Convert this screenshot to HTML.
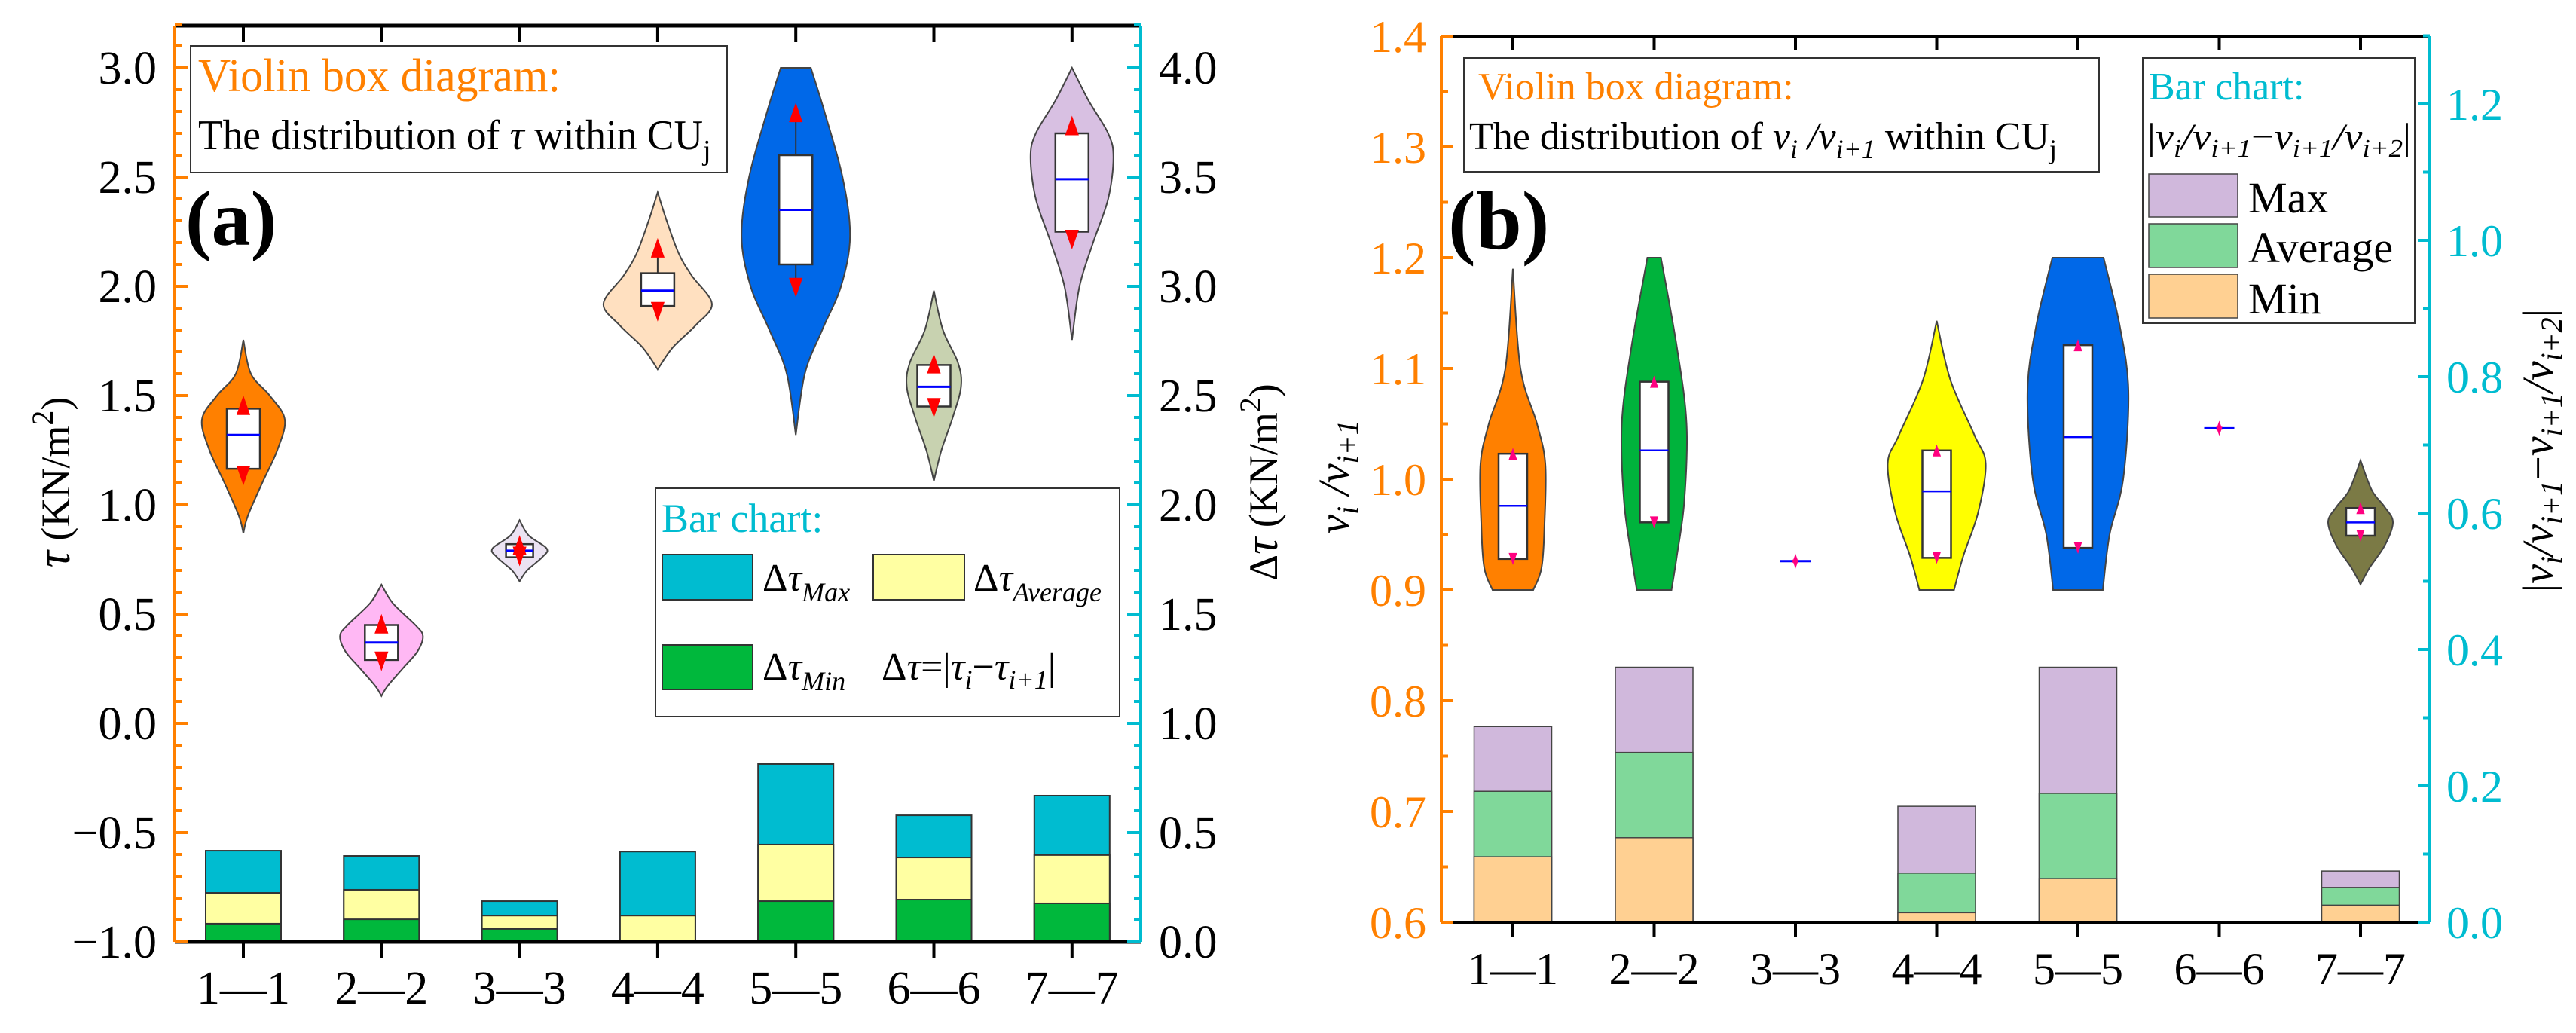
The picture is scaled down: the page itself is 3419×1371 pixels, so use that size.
<!DOCTYPE html>
<html><head><meta charset="utf-8"><style>
html,body{margin:0;padding:0;background:#fff}
svg{display:block}
text{font-family:"Liberation Serif",serif}
</style></head><body>
<svg id="chart" width="3419" height="1371" viewBox="0 0 3419 1371" xmlns="http://www.w3.org/2000/svg">
<g id="pa"></g>
<g id="pb"></g>
</svg>
<script>
// ---------- Panel (a) data ----------
const catsA = ["1—1","2—2","3—3","4—4","5—5","6—6","7—7"];
const barMaxA = [0.417,0.393,0.186,0.413,0.814,0.579,0.669];
const barAvgA = [0.224,0.238,0.120,0.120,0.445,0.386,0.397];
const barMinA = [0.083,0.103,0.059,0.003,0.186,0.193,0.176];
const boxTopA = [1.44,0.45,0.82,2.06,2.60,1.64,2.70];
const boxBotA = [1.165,0.29,0.76,1.91,2.10,1.45,2.25];
const medA = [1.32,0.37,0.79,1.98,2.35,1.54,2.49];
const upArrA = [1.47,0.47,0.83,2.19,2.81,1.66,2.75];
const dnArrA = [1.12,0.27,0.75,1.87,1.98,1.43,2.20];
const violinA = [
 [[1.755,0],[1.6,10],[1.5,35],[1.39,55],[1.25,45],[1.1,25],[0.95,6],[0.87,0]],
 [[0.635,0],[0.55,15],[0.45,45],[0.40,55],[0.33,48],[0.25,28],[0.17,8],[0.125,0]],
 [[0.93,0],[0.86,12],[0.80,36],[0.76,30],[0.70,10],[0.65,0]],
 [[2.43,0],[2.3,12],[2.15,28],[2.05,45],[1.92,72],[1.82,50],[1.72,20],[1.62,0]],
 [[3.0,20],[2.8,38],[2.5,62],[2.23,72],[2.0,60],[1.8,35],[1.6,12],[1.32,0]],
 [[1.98,0],[1.8,12],[1.65,32],[1.54,36],[1.4,25],[1.25,10],[1.11,0]],
 [[3.0,0],[2.85,22],[2.7,48],[2.59,55],[2.4,48],[2.2,28],[2.0,10],[1.755,0]]
];
const colorsA = ["#ff8000","#ffb8f4","#ebe3f2","#ffe0c0","#0068e8","#c8d2b0","#d8c0e2"];
const leftTicksA = [-1.0,-0.5,0.0,0.5,1.0,1.5,2.0,2.5,3.0];
const rightTicksA = [0.0,0.5,1.0,1.5,2.0,2.5,3.0,3.5,4.0];

// ---------- Panel (b) data ----------
const catsB = ["1—1","2—2","3—3","4—4","5—5","6—6","7—7"];
const barMaxB = [0.287,0.374,0,0.170,0.374,0,0.075];
const barAvgB = [0.192,0.249,0,0.072,0.189,0,0.051];
const barMinB = [0.096,0.124,0,0.014,0.064,0,0.025];
const boxTopB = [1.023,1.088,0.926,1.026,1.121,1.046,0.974];
const boxBotB = [0.928,0.961,0.926,0.929,0.938,1.046,0.949];
const medB = [0.976,1.026,0.926,0.989,1.038,1.046,0.961];
const violinB = [
 [[1.19,0],[1.1,10],[1.05,32],[1.014,43],[0.96,42],[0.92,38],[0.9,27]],
 [[1.2,9],[1.12,30],[1.05,43],[0.98,40],[0.93,30],[0.9,23]],
 null,
 [[1.143,0],[1.09,18],[1.04,50],[1.014,65],[0.97,55],[0.93,35],[0.9,23]],
 [[1.2,34],[1.14,55],[1.08,67],[1.0,60],[0.95,42],[0.9,33]],
 null,
 [[1.017,0],[0.99,15],[0.975,32],[0.961,43],[0.94,32],[0.92,12],[0.905,0]]
];
const colorsB = ["#ff8000","#00b33c",null,"#ffff00","#0068e8",null,"#7b7a45"];
const leftTicksB = [0.6,0.7,0.8,0.9,1.0,1.1,1.2,1.3,1.4];
const rightTicksB = [0.0,0.2,0.4,0.6,0.8,1.0,1.2];

const NS="http://www.w3.org/2000/svg";
function mk(parent,tag,attrs,txt){const e=document.createElementNS(NS,tag);for(const k in attrs)e.setAttribute(k,attrs[k]);if(txt!==undefined)e.textContent=txt;parent.appendChild(e);return e;}

function sidePath(pts){
  let d="";
  for(let i=0;i<pts.length-1;i++){
    const p0=pts[Math.max(0,i-1)],p1=pts[i],p2=pts[i+1],p3=pts[Math.min(pts.length-1,i+2)];
    const c1=[p1[0]+(p2[0]-p0[0])/6,p1[1]+(p2[1]-p0[1])/6];
    const c2=[p2[0]-(p3[0]-p1[0])/6,p2[1]-(p3[1]-p1[1])/6];
    d+=` C${c1[0].toFixed(1)},${c1[1].toFixed(1)} ${c2[0].toFixed(1)},${c2[1].toFixed(1)} ${p2[0].toFixed(1)},${p2[1].toFixed(1)}`;
  }
  return d;
}
function violinPath(prof,cx,ys){
  const right=prof.map(p=>[cx+p[1],ys(p[0])]);
  const left=prof.map(p=>[cx-p[1],ys(p[0])]).reverse();
  let d=`M${(cx-prof[0][1]).toFixed(1)},${ys(prof[0][0]).toFixed(1)} L${right[0][0].toFixed(1)},${right[0][1].toFixed(1)}`;
  d+=sidePath(right);
  d+=` L${left[0][0].toFixed(1)},${left[0][1].toFixed(1)}`;
  d+=sidePath(left)+" Z";
  return d;
}
function tri(g,x,y,up,size,color){
  const w=size*0.7,h=size;
  const pts=up?`${x-w/2},${y+h/2} ${x+w/2},${y+h/2} ${x},${y-h/2}`:`${x-w/2},${y-h/2} ${x+w/2},${y-h/2} ${x},${y+h/2}`;
  return mk(g,"polygon",{points:pts,fill:color});
}

// ================= Panel A =================
(function(){
  const g=document.getElementById("pa");
  const L=232,R=1514,T=34,B=1250;
  const yL=v=>B-(v+1.0)*290;
  const yR=v=>B-v*290;
  const xC=i=>323+i*183.3;
  const bw=100;
  const series=[[barMaxA,"#00bcd0","bar-max"],[barAvgA,"#ffffa2","bar-average"],[barMinA,"#00b83c","bar-min"]];
  series.forEach(([arr,col,nm])=>{
    arr.forEach((v,i)=>{
      const r=mk(g,"rect",{x:xC(i)-bw/2,y:yR(v),width:bw,height:B-yR(v),fill:col,stroke:"#333","stroke-width":2});
      
      
    });
  });
  violinA.forEach((prof,i)=>{
    const cx=xC(i);
    const p=mk(g,"path",{d:violinPath(prof,cx,yL),fill:colorsA[i],stroke:"#444","stroke-width":2});
    
    
    const bh=i==2?18:22;
    mk(g,"line",{x1:cx,x2:cx,y1:yL(upArrA[i]),y2:yL(dnArrA[i]),stroke:"#333","stroke-width":2});
    const b=mk(g,"rect",{x:cx-bh,y:yL(boxTopA[i]),width:bh*2,height:yL(boxBotA[i])-yL(boxTopA[i]),fill:"#fff",stroke:"#333","stroke-width":2.5});
    
    
    mk(g,"line",{x1:cx-bh,x2:cx+bh,y1:yL(medA[i]),y2:yL(medA[i]),stroke:"#0000ff","stroke-width":3});
    tri(g,cx,yL(upArrA[i])+4,true,26,"#ff0000");
    tri(g,cx,yL(dnArrA[i])-4,false,26,"#ff0000");
  });
  mk(g,"line",{x1:L,x2:R,y1:T,y2:T,stroke:"#000","stroke-width":5});
  mk(g,"line",{x1:L,x2:R,y1:B,y2:B,stroke:"#000","stroke-width":5});
  mk(g,"line",{x1:L,x2:L,y1:T,y2:B,stroke:"#ff8000","stroke-width":4});
  mk(g,"line",{x1:R,x2:R,y1:T,y2:B,stroke:"#00bcd0","stroke-width":4});
  for(let k=0;k<=42;k++){const v=-1+k*0.1;const y=yL(v);const maj=k%5==0;mk(g,"line",{x1:L,x2:L+(maj?18:9),y1:y,y2:y,stroke:"#ff8000","stroke-width":4});}
  for(let k=0;k<=42;k++){const v=k*0.1;const y=yR(v);const maj=k%5==0;mk(g,"line",{x1:R,x2:R-(maj?18:9),y1:y,y2:y,stroke:"#00bcd0","stroke-width":4});}
  leftTicksA.forEach(v=>{const t=mk(g,"text",{x:208,y:yL(v)+21,"font-size":62,"text-anchor":"end",fill:"#000"},(v<0?"−":"")+Math.abs(v).toFixed(1));
    });
  rightTicksA.forEach(v=>{const t=mk(g,"text",{x:1538,y:yR(v)+21,"font-size":62,"text-anchor":"start",fill:"#000"},v.toFixed(1));
    });
  catsA.forEach((c,i)=>{const x=xC(i);
    mk(g,"line",{x1:x,x2:x,y1:B,y2:B+22,stroke:"#000","stroke-width":4});
    mk(g,"line",{x1:x,x2:x,y1:T,y2:T+22,stroke:"#000","stroke-width":4});
    const t=mk(g,"text",{x:x,y:1332,"font-size":62,"text-anchor":"middle"},c);
    });
  const lt=mk(g,"text",{transform:"translate(92,640) rotate(-90)","font-size":54,"text-anchor":"middle"});
  
  lt.innerHTML='<tspan font-style="italic" font-size="62">τ</tspan>  (KN/m<tspan dy="-22" font-size="40">2</tspan><tspan dy="22">)</tspan>';
  const rt=mk(g,"text",{transform:"translate(1695,640) rotate(-90)","font-size":54,"text-anchor":"middle"});
  
  rt.innerHTML='Δ<tspan font-style="italic" font-size="62">τ</tspan>  (KN/m<tspan dy="-22" font-size="40">2</tspan><tspan dy="22">)</tspan>';
  const pl=mk(g,"text",{x:246,y:325,"font-size":104,"font-weight":"bold"},"(a)");
  
  const lg=mk(g,"g",{});
  mk(lg,"rect",{x:253,y:61,width:712,height:168,fill:"#fff",stroke:"#333","stroke-width":2});
  mk(lg,"text",{x:263,y:121,"font-size":62,fill:"#ff8000",textLength:481,lengthAdjust:"spacingAndGlyphs"},"Violin box diagram:");
  const l2=mk(lg,"text",{x:263,y:198,"font-size":56,fill:"#000"});
  l2.innerHTML='<tspan textLength="670" lengthAdjust="spacingAndGlyphs">The distribution of <tspan font-style="italic">τ</tspan> within CU</tspan><tspan dy="14" font-size="38">j</tspan>';
  const lg2=mk(g,"g",{});
  mk(lg2,"rect",{x:870,y:648,width:616,height:303,fill:"#fff",stroke:"#333","stroke-width":2});
  mk(lg2,"text",{x:878,y:706,"font-size":54,fill:"#00bcd0"},"Bar chart:");
  mk(lg2,"rect",{x:879,y:736,width:120,height:60,fill:"#00bcd0",stroke:"#333","stroke-width":2});
  mk(lg2,"rect",{x:1159,y:736,width:121,height:60,fill:"#ffffa2",stroke:"#333","stroke-width":2});
  mk(lg2,"rect",{x:879,y:856,width:120,height:59,fill:"#00b83c",stroke:"#333","stroke-width":2});
  const t1=mk(lg2,"text",{x:1012,y:784,"font-size":52});t1.innerHTML='Δ<tspan font-style="italic">τ</tspan><tspan dy="14" font-size="36" font-style="italic">Max</tspan>';
  const t2=mk(lg2,"text",{x:1292,y:784,"font-size":52});t2.innerHTML='Δ<tspan font-style="italic">τ</tspan><tspan dy="14" font-size="36" font-style="italic">Average</tspan>';
  const t3=mk(lg2,"text",{x:1012,y:902,"font-size":52});t3.innerHTML='Δ<tspan font-style="italic">τ</tspan><tspan dy="14" font-size="36" font-style="italic">Min</tspan>';
  const t4=mk(lg2,"text",{x:1170,y:902,"font-size":52});t4.innerHTML='Δ<tspan font-style="italic">τ</tspan>=|<tspan font-style="italic">τ</tspan><tspan dy="12" font-size="36" font-style="italic">i</tspan><tspan dy="-12">−</tspan><tspan font-style="italic">τ</tspan><tspan dy="12" font-size="36" font-style="italic">i+1</tspan><tspan dy="-12">|</tspan>';
})();

// ================= Panel B =================
(function(){
  const g=document.getElementById("pb");
  const L=1913,R=3225,T=48,B=1224;
  const yL=v=>B-(v-0.6)*1470;
  const yR=v=>B-v*905;
  const xC=i=>2008+i*187.5;
  const bw=103;
  const series=[[barMaxB,"#d0b8dc","bar-max"],[barAvgB,"#80d89a","bar-average"],[barMinB,"#ffd092","bar-min"]];
  series.forEach(([arr,col,nm])=>{
    arr.forEach((v,i)=>{ if(v<=0) return;
      const r=mk(g,"rect",{x:xC(i)-bw/2,y:yR(v),width:bw,height:B-yR(v),fill:col,stroke:"#444","stroke-width":1.5});
      
      
    });
  });
  boxTopB.forEach((bt,i)=>{
    const cx=xC(i);
    const prof=violinB[i];
    if(prof){
      const p=mk(g,"path",{d:violinPath(prof,cx,yL),fill:colorsB[i],stroke:"#444","stroke-width":2});
      
      
      const bh=19;
      const b=mk(g,"rect",{x:cx-bh,y:yL(bt),width:bh*2,height:yL(boxBotB[i])-yL(bt),fill:"#fff",stroke:"#333","stroke-width":2.5});
      
      
      mk(g,"line",{x1:cx-bh,x2:cx+bh,y1:yL(medB[i]),y2:yL(medB[i]),stroke:"#0000ff","stroke-width":2.5});
      tri(g,cx,yL(bt),true,16,"#ff0080");
      tri(g,cx,yL(boxBotB[i]),false,16,"#ff0080");
    } else {
      mk(g,"line",{x1:cx-20,x2:cx+20,y1:yL(medB[i]),y2:yL(medB[i]),stroke:"#0000ff","stroke-width":3});
      tri(g,cx,yL(bt)-4,true,12,"#ff0080");
      tri(g,cx,yL(bt)+4,false,12,"#ff0080");
    }
  });
  mk(g,"line",{x1:L,x2:R,y1:T,y2:T,stroke:"#000","stroke-width":4});
  mk(g,"line",{x1:L,x2:R,y1:B,y2:B,stroke:"#000","stroke-width":4});
  mk(g,"line",{x1:L,x2:L,y1:T,y2:B,stroke:"#ff8000","stroke-width":4});
  mk(g,"line",{x1:R,x2:R,y1:T,y2:B,stroke:"#00bcd0","stroke-width":4});
  for(let k=0;k<=16;k++){const y=yL(0.6+k*0.05);const maj=k%2==0;mk(g,"line",{x1:L,x2:L+(maj?16:9),y1:y,y2:y,stroke:"#ff8000","stroke-width":4});}
  for(let k=0;k<=13;k++){const y=yR(k*0.1);const maj=k%2==0;mk(g,"line",{x1:R,x2:R-(maj?16:9),y1:y,y2:y,stroke:"#00bcd0","stroke-width":4});}
  leftTicksB.forEach(v=>{const t=mk(g,"text",{x:1893,y:yL(v)+21,"font-size":60,"text-anchor":"end",fill:"#ff8000"},v.toFixed(1));
    });
  rightTicksB.forEach(v=>{const t=mk(g,"text",{x:3247,y:yR(v)+21,"font-size":60,"text-anchor":"start",fill:"#00bcd0"},v.toFixed(1));
    });
  catsB.forEach((c,i)=>{const x=xC(i);
    mk(g,"line",{x1:x,x2:x,y1:B,y2:B+20,stroke:"#000","stroke-width":4});
    mk(g,"line",{x1:x,x2:x,y1:T,y2:T+18,stroke:"#000","stroke-width":4});
    const t=mk(g,"text",{x:x,y:1306,"font-size":60,"text-anchor":"middle"},c);
    });
  const lt=mk(g,"text",{transform:"translate(1790,633) rotate(-90)","font-size":58,"text-anchor":"middle","font-style":"italic"});
  
  lt.innerHTML='v<tspan dy="12" font-size="40">i</tspan><tspan dy="-12"> /v</tspan><tspan dy="12" font-size="40">i+1</tspan>';
  const rt=mk(g,"text",{transform:"translate(3388,598) rotate(-90)","font-size":58,"text-anchor":"middle"});
  
  rt.innerHTML='|<tspan font-style="italic">v</tspan><tspan dy="12" font-size="40" font-style="italic">i</tspan><tspan dy="-12" font-style="italic">/v</tspan><tspan dy="12" font-size="40" font-style="italic">i+1</tspan><tspan dy="-12">−</tspan><tspan font-style="italic">v</tspan><tspan dy="12" font-size="40" font-style="italic">i+1</tspan><tspan dy="-12" font-style="italic">/v</tspan><tspan dy="12" font-size="40" font-style="italic">i+2</tspan><tspan dy="-12">|</tspan>';
  const pl=mk(g,"text",{x:1922,y:330,"font-size":110,"font-weight":"bold"},"(b)");
  
  const lg=mk(g,"g",{});
  mk(lg,"rect",{x:1943,y:77,width:843,height:151,fill:"#fff",stroke:"#333","stroke-width":2});
  mk(lg,"text",{x:1962,y:132,"font-size":52,fill:"#ff8000"},"Violin box  diagram:");
  const l2=mk(lg,"text",{x:1950,y:198,"font-size":52});
  l2.innerHTML='The distribution of  <tspan font-style="italic">v</tspan><tspan dy="12" font-size="36" font-style="italic">i</tspan><tspan dy="-12" font-style="italic"> /v</tspan><tspan dy="12" font-size="36" font-style="italic">i+1</tspan><tspan dy="-12">  within CU</tspan><tspan dy="12" font-size="36">j</tspan>';
  const lg2=mk(g,"g",{});
  mk(lg2,"rect",{x:2844,y:77,width:361,height:352,fill:"#fff",stroke:"#333","stroke-width":2});
  mk(lg2,"text",{x:2852,y:132,"font-size":52,fill:"#00bcd0"},"Bar chart:");
  const f=mk(lg2,"text",{x:2850,y:198,"font-size":50});
  f.innerHTML='<tspan textLength="350" lengthAdjust="spacingAndGlyphs">|<tspan font-style="italic">v</tspan><tspan dy="10" font-size="34" font-style="italic">i</tspan><tspan dy="-10" font-style="italic">/v</tspan><tspan dy="10" font-size="34" font-style="italic">i+1</tspan><tspan dy="-10">−</tspan><tspan font-style="italic">v</tspan><tspan dy="10" font-size="34" font-style="italic">i+1</tspan><tspan dy="-10" font-style="italic">/v</tspan><tspan dy="10" font-size="34" font-style="italic">i+2</tspan><tspan dy="-10">|</tspan></tspan>';
  mk(lg2,"rect",{x:2852,y:231,width:118,height:57,fill:"#d0b8dc",stroke:"#444","stroke-width":1.5});
  mk(lg2,"rect",{x:2852,y:297,width:118,height:58,fill:"#80d89a",stroke:"#444","stroke-width":1.5});
  mk(lg2,"rect",{x:2852,y:364,width:118,height:58,fill:"#ffd092",stroke:"#444","stroke-width":1.5});
  mk(lg2,"text",{x:2984,y:282,"font-size":58},"Max");
  mk(lg2,"text",{x:2984,y:348,"font-size":58},"Average");
  mk(lg2,"text",{x:2984,y:416,"font-size":58},"Min");
})();
</script>
</body></html>
